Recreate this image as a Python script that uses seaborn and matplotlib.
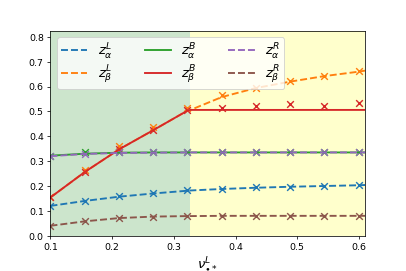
import numpy as np
import pandas as pd
import matplotlib
matplotlib.use("Agg")
import matplotlib.pyplot as plt
import seaborn as sns

# simulation points (markers)
nu_pts = [0.1, 0.156, 0.211, 0.267, 0.322, 0.378, 0.433, 0.489, 0.544, 0.6]
zaL_sim = [0.121, 0.140, 0.158, 0.170, 0.182, 0.188, 0.194, 0.197, 0.202, 0.203]
zbL_sim = [0.155, 0.266, 0.360, 0.439, 0.513, 0.567, 0.594, 0.623, 0.644, 0.662]
zaB_sim = [0.322, 0.335, 0.337, 0.337, 0.337, 0.337, 0.338, 0.338, 0.337, 0.338]
zbB_sim = [0.154, 0.257, 0.347, 0.425, 0.506, 0.515, 0.522, 0.530, 0.522, 0.532]
zaR_sim = [0.320, 0.330, 0.335, 0.335, 0.335, 0.335, 0.335, 0.335, 0.335, 0.335]
zbR_sim = [0.040, 0.058, 0.072, 0.077, 0.078, 0.080, 0.080, 0.080, 0.080, 0.080]

# theory curves (lines)
nu_line = [0.1, 0.156, 0.211, 0.267, 0.322, 0.327, 0.378, 0.433, 0.489, 0.544, 0.6, 0.61]
zaL_line = [0.120, 0.140, 0.157, 0.170, 0.181, 0.182, 0.188, 0.193, 0.197, 0.200, 0.203, 0.204]
zbL_line = [0.154, 0.257, 0.347, 0.425, 0.503, 0.506, 0.558, 0.594, 0.620, 0.642, 0.660, 0.664]
zaB_line = [0.322, 0.330, 0.334, 0.335, 0.335, 0.335, 0.335, 0.335, 0.335, 0.335, 0.335, 0.335]
zbB_line = [0.154, 0.257, 0.347, 0.425, 0.503, 0.506, 0.506, 0.506, 0.506, 0.506, 0.506, 0.506]
zaR_line = [0.320, 0.329, 0.333, 0.334, 0.335, 0.335, 0.335, 0.335, 0.335, 0.335, 0.335, 0.335]
zbR_line = [0.040, 0.058, 0.071, 0.077, 0.079, 0.079, 0.080, 0.080, 0.080, 0.080, 0.080, 0.080]

labels = [r"$z^L_\alpha$", r"$z^L_\beta$", r"$z^B_\alpha$", r"$z^B_\beta$", r"$z^R_\alpha$", r"$z^R_\beta$"]
colors = ["C0", "C1", "C2", "C3", "C4", "C5"]
styles = ["--", "--", "-", "-", "--", "--"]
lines = [zaL_line, zbL_line, zaB_line, zbB_line, zaR_line, zbR_line]
sims = [zaL_sim, zbL_sim, zaB_sim, zbB_sim, zaR_sim, zbR_sim]

boundary = 0.327

fig, ax = plt.subplots(figsize=(6, 4), dpi=67.83)
fig.subplots_adjust(left=0.124, right=0.897, bottom=0.13, top=0.886)

ax.axvspan(0.1, boundary, color="green", alpha=0.2, lw=0)
ax.axvspan(boundary, 0.61, color="yellow", alpha=0.2, lw=0)

for lab, c, ls, yl, ys in zip(labels, colors, styles, lines, sims):
    sns.lineplot(x=nu_line, y=yl, ax=ax, color=c, linestyle=ls, lw=2, label=lab)
    sns.scatterplot(x=nu_pts, y=ys, ax=ax, color=c, marker="x", s=50, linewidth=1.5)

ax.set_xlim(0.1, 0.61)
ax.set_ylim(0, 0.825)
ax.set_xticks([0.1, 0.2, 0.3, 0.4, 0.5, 0.6])
ax.set_yticks([0.0, 0.1, 0.2, 0.3, 0.4, 0.5, 0.6, 0.7, 0.8])
ax.set_xlabel(r"$\nu^L_{\bullet *}$", fontsize=14)
ax.legend(loc="upper left", ncol=3, fontsize=14, labelspacing=0.15, borderpad=0.3,
          columnspacing=2.4)

plt.savefig("out.png")
